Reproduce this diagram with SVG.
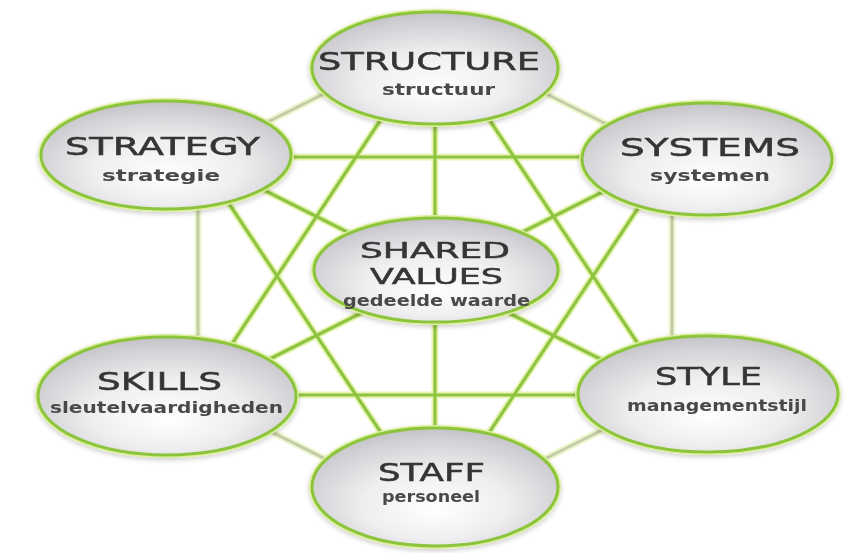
<svg xmlns="http://www.w3.org/2000/svg" width="850" height="553" viewBox="0 0 850 553">
<defs>
<radialGradient id="fillG" cx="50%" cy="60%" r="60%" fx="50%" fy="70%">
<stop offset="0" stop-color="#ffffff"/>
<stop offset="0.5" stop-color="#eeeef0"/>
<stop offset="0.88" stop-color="#d0d0d4"/>
<stop offset="1" stop-color="#c2c2c7"/>
</radialGradient>
<filter id="sh" x="-10%" y="-10%" width="120%" height="130%">
<feGaussianBlur in="SourceAlpha" stdDeviation="2.5"/>
<feOffset dy="2" result="b"/>
<feComponentTransfer><feFuncA type="linear" slope="0.2"/></feComponentTransfer>
<feMerge><feMergeNode/><feMergeNode in="SourceGraphic"/></feMerge>
</filter>
</defs>
<style>
.halo{stroke:#e6f4b4;stroke-width:7;fill:none;stroke-linecap:round}
.inner{stroke:#8fc441;stroke-width:3.2;fill:none}
.ohalo{stroke:#eef7cc;stroke-width:7;fill:none}
.outer{stroke:#c3cca9;stroke-width:3;fill:none}
.glow{fill:none;stroke:#dcf09c;stroke-width:6}
.ell{fill:url(#fillG);stroke:#8cc43c;stroke-width:3}
.t{font-family:"DejaVu Sans","Liberation Sans",sans-serif;font-size:24px;fill:#353535;stroke:#353535;stroke-width:0.5}
.s{font-family:"DejaVu Sans","Liberation Sans",sans-serif;font-size:15px;font-weight:bold;fill:#4a4a4a}
</style>
<rect width="850" height="553" fill="#ffffff"/>
<g id="connectors">
<g class="ohalo">
<line x1="198" y1="157" x2="435" y2="38"/>
<line x1="435" y1="38" x2="672" y2="157"/>
<line x1="672" y1="157" x2="672" y2="395"/>
<line x1="672" y1="395" x2="435" y2="514"/>
<line x1="435" y1="514" x2="198" y2="395"/>
<line x1="198" y1="395" x2="198" y2="157"/>
</g>
<g class="outer">
<line x1="198" y1="157" x2="435" y2="38"/>
<line x1="435" y1="38" x2="672" y2="157"/>
<line x1="672" y1="157" x2="672" y2="395"/>
<line x1="672" y1="395" x2="435" y2="514"/>
<line x1="435" y1="514" x2="198" y2="395"/>
<line x1="198" y1="395" x2="198" y2="157"/>
</g>
<g class="halo">
<line x1="198" y1="157" x2="672" y2="157"/>
<line x1="198" y1="395" x2="672" y2="395"/>
<line x1="435" y1="38" x2="198" y2="395"/>
<line x1="435" y1="38" x2="672" y2="395"/>
<line x1="198" y1="157" x2="435" y2="514"/>
<line x1="672" y1="157" x2="435" y2="514"/>
<line x1="435" y1="38" x2="435" y2="514"/>
<line x1="198" y1="157" x2="672" y2="395"/>
<line x1="672" y1="157" x2="198" y2="395"/>
</g>
<g class="inner">
<line x1="198" y1="157" x2="672" y2="157"/>
<line x1="198" y1="395" x2="672" y2="395"/>
<line x1="435" y1="38" x2="198" y2="395"/>
<line x1="435" y1="38" x2="672" y2="395"/>
<line x1="198" y1="157" x2="435" y2="514"/>
<line x1="672" y1="157" x2="435" y2="514"/>
<line x1="435" y1="38" x2="435" y2="514"/>
<line x1="198" y1="157" x2="672" y2="395"/>
<line x1="672" y1="157" x2="198" y2="395"/>
</g>
</g>
<g id="structure" filter="url(#sh)">
<ellipse class="glow" cx="435" cy="68" rx="123" ry="56"/>
<ellipse class="ell" cx="435" cy="68" rx="123" ry="56"/>
<text class="t" x="318" y="70" textLength="222" lengthAdjust="spacingAndGlyphs">STRUCTURE</text>
<text class="s" x="382" y="95" textLength="113" lengthAdjust="spacingAndGlyphs">structuur</text>
</g>
<g id="strategy" filter="url(#sh)">
<ellipse class="glow" cx="166" cy="155" rx="125" ry="54"/>
<ellipse class="ell" cx="166" cy="155" rx="125" ry="54"/>
<text class="t" x="65" y="155" textLength="195" lengthAdjust="spacingAndGlyphs">STRATEGY</text>
<text class="s" x="102" y="181" textLength="118" lengthAdjust="spacingAndGlyphs">strategie</text>
</g>
<g id="systems" filter="url(#sh)">
<ellipse class="glow" cx="707" cy="159" rx="125" ry="56"/>
<ellipse class="ell" cx="707" cy="159" rx="125" ry="56"/>
<text class="t" x="620" y="156" textLength="180" lengthAdjust="spacingAndGlyphs">SYSTEMS</text>
<text class="s" x="650" y="181" textLength="120" lengthAdjust="spacingAndGlyphs">systemen</text>
</g>
<g id="shared-values" filter="url(#sh)">
<ellipse class="glow" cx="436" cy="270" rx="122" ry="52"/>
<ellipse class="ell" cx="436" cy="270" rx="122" ry="52"/>
<text class="t" x="360" y="258" textLength="150" lengthAdjust="spacingAndGlyphs" style="font-size:22px">SHARED</text>
<text class="t" x="370" y="284" textLength="133" lengthAdjust="spacingAndGlyphs" style="font-size:22px">VALUES</text>
<text class="s" x="343" y="306" textLength="187" lengthAdjust="spacingAndGlyphs">gedeelde waarde</text>
</g>
<g id="skills" filter="url(#sh)">
<ellipse class="glow" cx="167" cy="396" rx="129" ry="59"/>
<ellipse class="ell" cx="167" cy="396" rx="129" ry="59"/>
<text class="t" x="97" y="390" textLength="125" lengthAdjust="spacingAndGlyphs">SKILLS</text>
<text class="s" x="50" y="413" textLength="233" lengthAdjust="spacingAndGlyphs">sleutelvaardigheden</text>
</g>
<g id="style" filter="url(#sh)">
<ellipse class="glow" cx="708" cy="394" rx="130" ry="58"/>
<ellipse class="ell" cx="708" cy="394" rx="130" ry="58"/>
<text class="t" x="655" y="385" textLength="107" lengthAdjust="spacingAndGlyphs">STYLE</text>
<text class="s" x="627" y="411" textLength="180" lengthAdjust="spacingAndGlyphs">managementstijl</text>
</g>
<g id="staff" filter="url(#sh)">
<ellipse class="glow" cx="435" cy="487" rx="123" ry="59"/>
<ellipse class="ell" cx="435" cy="487" rx="123" ry="59"/>
<text class="t" x="378" y="481" textLength="107" lengthAdjust="spacingAndGlyphs">STAFF</text>
<text class="s" x="382" y="502" textLength="98" lengthAdjust="spacingAndGlyphs">personeel</text>
</g>
</svg>
